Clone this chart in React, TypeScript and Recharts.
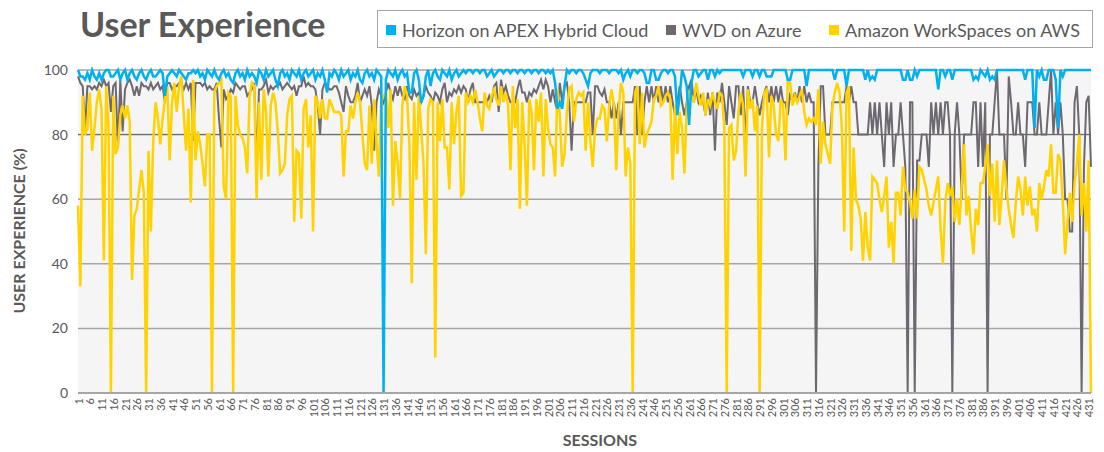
import { LineChart, Line, XAxis, YAxis, CartesianGrid, ReferenceLine } from "recharts";

// Values, one per session (1..432)
const HORIZON = [
  100, 98, 98, 97, 99, 97, 100, 98, 97, 99,
  97, 99, 100, 100, 98, 98, 99, 100, 97, 99,
  100, 97, 99, 100, 98, 97, 99, 100, 98, 97,
  99, 100, 98, 98, 99, 100, 99, 92, 98, 99,
  100, 99, 98, 100, 99, 98, 97, 99, 99, 100,
  99, 100, 98, 99, 97, 100, 99, 98, 100, 98,
  97, 99, 100, 98, 99, 97, 96, 99, 100, 98,
  99, 97, 100, 98, 99, 98, 96, 100, 99, 97,
  100, 98, 99, 100, 97, 95, 99, 100, 98, 99,
  97, 100, 99, 98, 100, 97, 99, 100, 98, 99,
  100, 97, 99, 98, 100, 97, 93, 99, 98, 100,
  99, 97, 100, 98, 99, 100, 97, 99, 98, 100,
  97, 96, 99, 100, 98, 99, 97, 100, 99, 98,
  0, 97, 100, 99, 98, 100, 97, 99, 100, 98,
  99, 93, 93, 99, 100, 97, 90, 92, 98, 100,
  95, 99, 100, 98, 97, 100, 99, 98, 100, 97,
  99, 100, 98, 99, 100, 99, 100, 100, 99, 100,
  100, 99, 100, 100, 98, 99, 100, 98, 99, 100,
  100, 99, 100, 100, 99, 100, 100, 99, 100, 100,
  99, 100, 100, 99, 100, 100, 99, 100, 100, 99,
  100, 99, 100, 96, 88, 90, 88, 95, 100, 99,
  100, 100, 99, 100, 100, 99, 97, 95, 99, 100,
  100, 100, 99, 100, 100, 100, 99, 100, 100, 100,
  99, 100, 97, 99, 100, 98, 100, 100, 99, 100,
  100, 99, 96, 96, 100, 100, 97, 97, 99, 100,
  100, 99, 100, 100, 98, 86, 92, 100, 98, 95,
  83, 96, 100, 100, 98, 99, 100, 100, 97, 100,
  100, 98, 100, 99, 100, 100, 100, 100, 100, 100,
  100, 100, 100, 98, 100, 100, 100, 98, 100, 100,
  98, 100, 100, 98, 98, 98, 100, 100, 100, 100,
  100, 100, 97, 97, 100, 100, 100, 100, 100, 100,
  95, 100, 100, 100, 100, 100, 100, 100, 100, 100,
  100, 100, 97, 100, 100, 100, 100, 95, 100, 100,
  100, 100, 100, 100, 100, 97, 100, 97, 98, 97,
  100, 100, 100, 100, 100, 100, 100, 100, 100, 100,
  100, 97, 97, 100, 97, 97, 100, 98, 100, 100,
  100, 100, 100, 100, 100, 100, 94, 100, 100, 98,
  100, 100, 97, 100, 100, 100, 100, 100, 100, 100,
  100, 97, 98, 97, 100, 99, 98, 100, 97, 98,
  97, 100, 100, 100, 100, 100, 100, 100, 100, 100,
  100, 100, 100, 97, 100, 100, 100, 82, 100, 98,
  100, 97, 97, 100, 100, 100, 97, 82, 100, 98,
  100, 100, 100, 100, 100, 100, 100, 100, 100, 100,
  100, 100,
];

const WVD = [
  98, 96, 95, 82, 95, 95, 94, 95, 94, 96,
  95, 97, 95, 96, 87, 95, 96, 76, 97, 81,
  94, 96, 97, 95, 92, 95, 92, 96, 95, 95,
  94, 96, 94, 95, 96, 94, 95, 90, 96, 96,
  94, 95, 95, 96, 96, 94, 96, 94, 96, 78,
  96, 96, 96, 95, 96, 94, 95, 94, 94, 96,
  85, 76, 94, 91, 92, 94, 93, 96, 95, 94,
  95, 95, 92, 93, 94, 96, 70, 94, 94, 95,
  97, 93, 95, 94, 95, 95, 96, 94, 95, 96,
  95, 94, 95, 92, 95, 95, 98, 95, 96, 95,
  95, 94, 89, 80, 94, 96, 95, 94, 94, 95,
  95, 93, 90, 87, 95, 92, 90, 90, 92, 96,
  90, 92, 94, 92, 95, 89, 75, 90, 94, 92,
  90, 93, 96, 93, 91, 95, 92, 95, 92, 91,
  95, 92, 91, 94, 92, 93, 90, 92, 95, 93,
  92, 90, 93, 92, 90, 94, 96, 90, 93, 92,
  94, 93, 95, 93, 95, 94, 90, 94, 96, 90,
  90, 90, 90, 90, 90, 92, 90, 95, 96, 87,
  97, 93, 95, 92, 90, 90, 90, 94, 97, 93,
  93, 90, 93, 92, 94, 93, 95, 97, 94, 97,
  95, 90, 94, 90, 87, 96, 90, 95, 96, 90,
  75, 90, 90, 90, 90, 90, 90, 93, 93, 80,
  95, 95, 93, 92, 94, 90, 90, 85, 90, 85,
  90, 80, 90, 90, 90, 90, 90, 95, 80, 95,
  80, 90, 95, 90, 95, 90, 95, 90, 95, 90,
  95, 90, 95, 90, 86, 90, 95, 90, 86, 90,
  95, 97, 90, 94, 90, 92, 90, 86, 93, 86,
  93, 75, 93, 90, 96, 90, 83, 95, 90, 85,
  95, 95, 86, 95, 78, 95, 90, 90, 95, 90,
  86, 90, 93, 95, 90, 95, 90, 95, 90, 95,
  90, 90, 86, 93, 90, 93, 90, 95, 90, 95,
  90, 93, 90, 90, 0, 70, 95, 95, 80, 80,
  80, 90, 90, 90, 90, 90, 90, 95, 90, 95,
  90, 90, 80, 80, 80, 80, 80, 90, 80, 90,
  80, 90, 80, 70, 90, 80, 90, 70, 80, 80,
  90, 80, 70, 0, 90, 90, 0, 72, 72, 80,
  80, 80, 70, 90, 80, 90, 80, 90, 80, 90,
  90, 80, 0, 80, 90, 80, 60, 80, 80, 80,
  80, 90, 90, 70, 90, 70, 90, 0, 80, 80,
  90, 100, 80, 80, 80, 60, 98, 90, 80, 80,
  90, 80, 80, 70, 90, 90, 90, 80, 80, 90,
  80, 80, 80, 90, 100, 80, 90, 80, 90, 80,
  60, 60, 50, 50, 90, 95, 80, 0, 70, 90,
  92, 70,
];

const AMAZON = [
  58, 33, 92, 80, 82, 93, 75, 82, 90, 94,
  88, 41, 95, 82, 0, 92, 74, 76, 86, 89,
  85, 89, 84, 35, 55, 57, 63, 69, 62, 0,
  75, 50, 78, 90, 85, 77, 85, 91, 95, 72,
  90, 96, 87, 95, 98, 86, 75, 88, 59, 97,
  72, 81, 77, 71, 64, 80, 80, 0, 93, 95,
  96, 97, 64, 60, 93, 92, 0, 92, 83, 80,
  79, 76, 68, 92, 96, 95, 60, 90, 66, 94,
  87, 67, 89, 93, 90, 81, 68, 69, 71, 86,
  91, 92, 53, 75, 74, 54, 88, 91, 76, 86,
  50, 92, 90, 85, 91, 85, 85, 91, 89, 87,
  87, 87, 86, 67, 81, 81, 89, 85, 90, 93,
  90, 80, 71, 69, 89, 71, 91, 78, 67, 90,
  92, 93, 82, 94, 58, 78, 71, 60, 89, 95,
  92, 77, 34, 90, 66, 92, 82, 71, 43, 88,
  91, 90, 11, 90, 78, 91, 76, 76, 63, 90,
  77, 87, 92, 61, 62, 93, 90, 92, 90, 94,
  90, 85, 81, 93, 89, 88, 92, 94, 91, 89,
  95, 90, 93, 89, 69, 95, 82, 91, 57, 90,
  77, 58, 91, 87, 69, 91, 84, 93, 67, 91,
  82, 77, 76, 67, 94, 86, 70, 74, 87, 94,
  95, 84, 91, 93, 92, 93, 75, 90, 78, 70,
  82, 85, 85, 89, 88, 78, 89, 94, 89, 69,
  87, 96, 93, 67, 76, 71, 0, 93, 95, 77,
  93, 76, 80, 82, 84, 91, 92, 95, 89, 90,
  92, 93, 91, 66, 89, 74, 87, 82, 68, 89,
  93, 92, 90, 96, 92, 89, 93, 86, 91, 89,
  93, 90, 88, 93, 92, 82, 0, 82, 83, 72,
  75, 87, 93, 89, 67, 94, 88, 91, 81, 89,
  0, 82, 93, 94, 73, 92, 89, 80, 78, 91,
  89, 72, 97, 96, 89, 92, 90, 92, 94, 87,
  83, 85, 84, 85, 83, 94, 71, 84, 77, 74,
  71, 89, 93, 96, 93, 82, 50, 93, 95, 44,
  76, 60, 58, 54, 41, 56, 45, 41, 67, 66,
  65, 60, 56, 61, 67, 45, 53, 40, 62, 62,
  55, 70, 63, 62, 59, 54, 63, 54, 70, 69,
  66, 63, 58, 55, 59, 63, 67, 51, 40, 59,
  65, 61, 64, 53, 60, 52, 64, 77, 55, 61,
  50, 43, 57, 52, 65, 65, 70, 77, 61, 71,
  53, 72, 52, 61, 72, 63, 57, 52, 48, 59,
  67, 63, 55, 67, 58, 64, 55, 57, 50, 65,
  60, 64, 69, 67, 77, 62, 62, 74, 72, 59,
  43, 53, 62, 53, 65, 71, 80, 55, 65, 50,
  72, 0,
];

const SESSION_TICKS = [
  1, 6, 11, 16, 21, 26, 31, 36, 41, 46, 51, 56, 61, 66, 71, 76, 81, 86, 91, 96,
  101, 106, 111, 116, 121, 126, 131, 136, 141, 146, 151, 156, 161, 166, 171, 176, 181, 186, 191, 196,
  201, 206, 211, 216, 221, 226, 231, 236, 241, 246, 251, 256, 261, 266, 271, 276, 281, 286, 291, 296,
  301, 306, 311, 316, 321, 326, 331, 336, 341, 346, 351, 356, 361, 366, 371, 376, 381, 386, 391, 396,
  401, 406, 411, 416, 421, 426, 431,
];
const Y_TICKS = [0, 20, 40, 60, 80, 100];

const SERIES = [
  { key: "horizon", name: "Horizon on APEX Hybrid Cloud", color: "#00b0f0" },
  { key: "wvd", name: "WVD on Azure", color: "#6e6870" },
  { key: "amazon", name: "Amazon WorkSpaces on AWS", color: "#ffd200" },
];

const FONT = "Lato, 'Open Sans', sans-serif";
const TEXT = "#595959";

const data = HORIZON.map((h, i) => ({
  session: i + 1,
  horizon: h,
  wvd: WVD[i],
  amazon: AMAZON[i],
}));

function SessionTick({ x, y, payload }: any) {
  return (
    <text
      x={x}
      y={y}
      transform={`rotate(-90, ${x}, ${y})`}
      textAnchor="end"
      dominantBaseline="central"
      fontSize={11}
      fill={TEXT}
      fontFamily={FONT}
    >
      {payload.value}
    </text>
  );
}

const LEGEND_POS = [386, 666, 829];

export default function App() {
  return (
    <div style={{ position: "absolute", left: 0, top: 0, width: 1104, height: 452, background: "#fff", fontFamily: FONT, color: TEXT }}>
      <div style={{ position: "absolute", left: 80, top: 1, fontSize: 34, fontWeight: 700, lineHeight: "46px" }}>User Experience</div>

      <div style={{ position: "absolute", left: 377, top: 10, width: 716, height: 38, border: "1px solid #a6a6a6", boxSizing: "border-box" }} />
      {SERIES.map((s, i) => (
        <div key={s.key} style={{ position: "absolute", left: LEGEND_POS[i], top: 18, height: 24, display: "flex", alignItems: "center", fontSize: 18, whiteSpace: "nowrap" }}>
          <span style={{ display: "inline-block", width: 10, height: 10, background: s.color, marginRight: 6 }} />
          {s.name}
        </div>
      ))}

      <div style={{ position: "absolute", left: 18, top: 231, transform: "translate(-50%, -50%) rotate(-90deg)", fontSize: 16, fontWeight: 700, whiteSpace: "nowrap" }}>
        USER EXPERIENCE (%)
      </div>
      <div style={{ position: "absolute", left: 600, top: 439, transform: "translate(-50%, -50%)", fontSize: 16, fontWeight: 700 }}>SESSIONS</div>

      <div style={{ position: "absolute", left: 0, top: 0 }}>
        <LineChart width={1104} height={452} data={data} margin={{ top: 70, right: 13, bottom: 0, left: 0 }}>
          <CartesianGrid vertical={false} stroke="#a6a6a6" strokeWidth={1.5} fill="#f5f5f5" />
          <ReferenceLine y={80} stroke="#666" strokeWidth={1} />
          <XAxis
            dataKey="session"
            type="number"
            domain={[1, 432]}
            ticks={SESSION_TICKS}
            interval={0}
            height={59}
            tickLine={false}
            tickSize={0}
            tickMargin={5}
            tick={<SessionTick />}
            axisLine={{ stroke: "#a6a6a6", strokeWidth: 2 }}
          />
          <YAxis
            domain={[0, 100]}
            ticks={Y_TICKS}
            width={78}
            tickLine={false}
            tickSize={0}
            tickMargin={10}
            axisLine={false}
            tick={{ fontSize: 14, fill: TEXT, fontFamily: FONT }}
          />
          <Line type="linear" dataKey="wvd" stroke="#6e6870" strokeWidth={2} dot={false} isAnimationActive={false} />
          <Line type="linear" dataKey="amazon" stroke="#ffd200" strokeWidth={2.5} dot={false} isAnimationActive={false} />
          <Line type="linear" dataKey="horizon" stroke="#00b0f0" strokeWidth={2.5} dot={false} isAnimationActive={false} />
        </LineChart>
      </div>
    </div>
  );
}
